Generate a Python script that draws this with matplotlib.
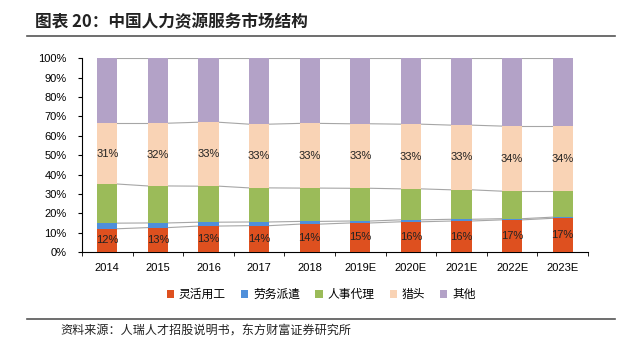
import matplotlib
matplotlib.use("Agg")
import matplotlib.pyplot as plt
import numpy as np
from matplotlib.lines import Line2D
from matplotlib.patches import Patch

plt.rcParams['font.family'] = ['Liberation Sans', 'Noto Sans CJK SC', 'DejaVu Sans']

years = ['2014', '2015', '2016', '2017', '2018', '2019E', '2020E', '2021E', '2022E', '2023E']
series_names = ['灵活用工', '劳务派遣', '人事代理', '猎头', '其他']
flexible = [12.0, 12.6, 13.4, 13.6, 14.4, 15.0, 15.6, 16.0, 16.6, 17.4]
dispatch = [2.9, 2.4, 2.0, 1.9, 1.4, 1.0, 1.0, 0.9, 0.6, 0.6]
agency = [20.2, 19.1, 18.6, 17.6, 17.2, 16.9, 16.0, 15.2, 14.2, 13.4]
headhunt = [31.4, 32.4, 33.0, 32.9, 33.4, 33.3, 33.4, 33.4, 33.6, 33.6]
other = [100 - a - b - c - d for a, b, c, d in zip(flexible, dispatch, agency, headhunt)]

colors = ['#DE501F', '#4F8FDA', '#9BBB59', '#F9D3B5', '#B3A2C7']

fig = plt.figure(figsize=(6.24, 3.54), dpi=100)
ax = fig.add_axes([0.1314, 0.2881, 0.8109, 0.5472])

x = np.arange(len(years))
w = 0.40
data = [flexible, dispatch, agency, headhunt, other]
bottom = np.zeros(len(years))
tops = []
for vals, c, name in zip(data, colors, series_names):
    vals = np.array(vals)
    ax.bar(x, vals, w, bottom=bottom, color=c, edgecolor='none', label=name, zorder=3)
    bottom = bottom + vals
    tops.append(bottom.copy())

# series lines
for t in tops:
    for i in range(len(years) - 1):
        ax.plot([x[i] + w / 2, x[i + 1] - w / 2], [t[i], t[i + 1]], color='#A6A6A6', lw=0.8, zorder=2)

# labels
for i in range(len(years)):
    ax.text(x[i], flexible[i] / 2, f"{flexible[i]:.0f}%", ha='center', va='center', fontsize=8, color='#222222', zorder=4)
    base = flexible[i] + dispatch[i] + agency[i]
    ax.text(x[i], base + headhunt[i] / 2, f"{headhunt[i]:.0f}%", ha='center', va='center', fontsize=8, color='#222222', zorder=4)

ax.set_xlim(-0.5, len(years) - 0.5)
ax.set_ylim(0, 100)
ax.set_yticks(np.arange(0, 101, 10))
ax.set_yticklabels([f"{v}%" for v in range(0, 101, 10)], fontsize=8)
ax.set_xticks(x)
ax.set_xticklabels(years, fontsize=8)
ax.tick_params(axis='x', length=0, pad=8)
ax.set_xticks(np.arange(-0.5, len(years), 1), minor=True)
ax.tick_params(axis='x', which='minor', length=3, direction='out', color='#000000')
ax.tick_params(axis='y', length=3, direction='out', pad=8)
for s in ['top', 'right']:
    ax.spines[s].set_visible(False)
for s in ['left', 'bottom']:
    ax.spines[s].set_color('#000000')
    ax.spines[s].set_linewidth(0.8)

handles = [Patch(facecolor=c, edgecolor='none') for c in colors]
fig.legend(handles, series_names, loc='center', bbox_to_anchor=(0.515, 0.168), ncol=5,
           frameon=False, handlelength=0.6, handleheight=0.6,
           handletextpad=0.4, columnspacing=1.3, prop={'family': ['Noto Sans CJK SC'], 'size': 8.5})

fig.text(0.056, 0.938, '图表 20：中国人力资源服务市场结构', fontsize=12, fontweight='bold',
         family=['Noto Sans CJK SC'], ha='left', va='center', color='#222222')
fig.add_artist(Line2D([27 / 624, 615 / 624], [1 - 35.7 / 354, 1 - 35.7 / 354], color='#555555', lw=1.2))
fig.add_artist(Line2D([27 / 624, 615 / 624], [1 - 319.3 / 354, 1 - 319.3 / 354], color='#555555', lw=1.2))
fig.text(0.096, 0.068, '资料来源：人瑞人才招股说明书，东方财富证券研究所', fontsize=8.7,
         family=['Noto Sans CJK SC'], ha='left', va='center', color='#222222')

fig.savefig('out.png', dpi=100)
